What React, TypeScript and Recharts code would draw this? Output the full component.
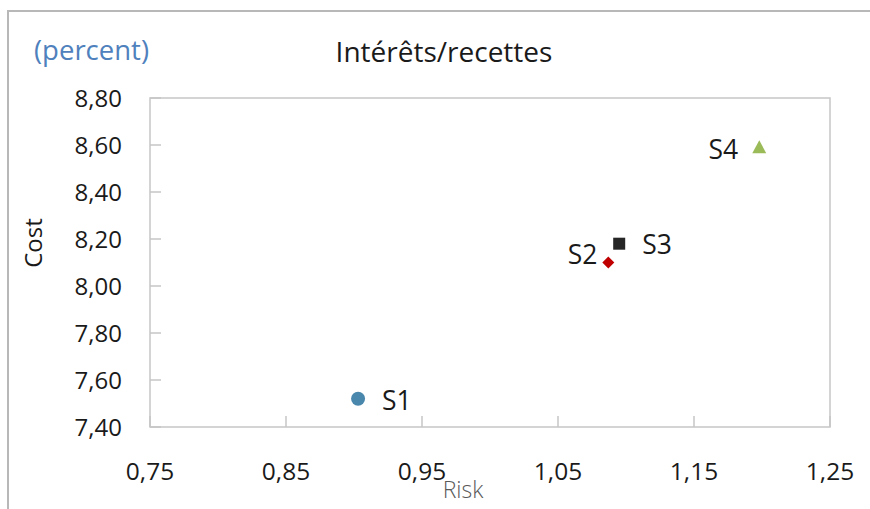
import React from "react";
import {
  ScatterChart,
  Scatter,
  XAxis,
  YAxis,
  ReferenceArea,
} from "recharts";

const s1 = [{ name: "S1", risk: 0.903, cost: 7.52 }];
const s2 = [{ name: "S2", risk: 1.087, cost: 8.1 }];
const s3 = [{ name: "S3", risk: 1.095, cost: 8.18 }];
const s4 = [{ name: "S4", risk: 1.198, cost: 8.59 }];

const xTicks = [0.75, 0.85, 0.95, 1.05, 1.15, 1.25];
const yTicks = [7.4, 7.6, 7.8, 8.0, 8.2, 8.4, 8.6, 8.8];

const FONT = "'Open Sans', 'Noto Sans', sans-serif";
const BORDER = "#c6c6c6";

const labelStyle: Record<string, { anchor: "start" | "end"; dx: number; dy: number }> = {
  S1: { anchor: "start", dx: 24, dy: 2 },
  S2: { anchor: "end", dx: -11, dy: -8 },
  S3: { anchor: "start", dx: 23, dy: 1 },
  S4: { anchor: "end", dx: -21, dy: 2 },
};

const fmt = (v: number) => v.toFixed(2).replace(".", ",");

const PointLabel = ({ cx, cy, name }: any) => {
  const st = labelStyle[name];
  return (
    <text
      x={cx + st.dx}
      y={cy + st.dy}
      dy="0.36em"
      textAnchor={st.anchor}
      fontSize={26.5}
      fontFamily={FONT}
      fill="#1a1a1a"
    >
      {name}
    </text>
  );
};

const CircleShape = (p: any) => (
  <g>
    <circle cx={p.cx} cy={p.cy} r={7} fill="#4a87ad" />
    <PointLabel cx={p.cx} cy={p.cy} name={p.payload.name} />
  </g>
);
const DiamondShape = (p: any) => (
  <g>
    <polygon
      points={`${p.cx},${p.cy - 6} ${p.cx + 6},${p.cy} ${p.cx},${p.cy + 6} ${p.cx - 6},${p.cy}`}
      fill="#c00000"
    />
    <PointLabel cx={p.cx} cy={p.cy} name={p.payload.name} />
  </g>
);
const SquareShape = (p: any) => (
  <g>
    <rect x={p.cx - 6} y={p.cy - 6} width={12} height={12} fill="#262626" />
    <PointLabel cx={p.cx} cy={p.cy} name={p.payload.name} />
  </g>
);
const TriangleShape = (p: any) => (
  <g>
    <polygon
      points={`${p.cx},${p.cy - 7} ${p.cx + 7},${p.cy + 6} ${p.cx - 7},${p.cy + 6}`}
      fill="#9bbb59"
    />
    <PointLabel cx={p.cx} cy={p.cy} name={p.payload.name} />
  </g>
);

const XTick = (props: any) => {
  const { x, y, payload } = props;
  return (
    <g>
      <line x1={x} y1={y} x2={x} y2={y - 11} stroke={BORDER} strokeWidth={1.5} />
      <text
        x={x}
        y={y + 44}
        dy="0.36em"
        textAnchor="middle"
        fontSize={24.5}
        fontFamily={FONT}
        fill="#1a1a1a"
      >
        {fmt(payload.value)}
      </text>
    </g>
  );
};

const YTick = (props: any) => {
  const { x, y, payload } = props;
  return (
    <g>
      <line x1={x} y1={y} x2={x + 11} y2={y} stroke={BORDER} strokeWidth={1.5} />
      <text
        x={x - 28}
        y={y}
        dy="0.36em"
        textAnchor="end"
        fontSize={24}
        fontFamily={FONT}
        fill="#1a1a1a"
      >
        {fmt(payload.value)}
      </text>
    </g>
  );
};

export default function App() {
  return (
    <div
      style={{
        position: "absolute",
        left: 0,
        top: 0,
        width: 870,
        height: 509,
        background: "#fff",
        overflow: "hidden",
      }}
    >
      <div
        style={{
          position: "absolute",
          left: 7,
          top: 10,
          width: 900,
          height: 600,
          borderLeft: "2px solid #b8b8b8",
          borderTop: "2px solid #b8b8b8",
        }}
      />
      <div
        style={{
          position: "absolute",
          left: 34,
          top: 32,
          fontFamily: FONT,
          fontSize: 27.5,
          color: "#4f81bd",
          lineHeight: "36px",
          whiteSpace: "nowrap",
        }}
      >
        (percent)
      </div>
      <div
        style={{
          position: "absolute",
          left: 244,
          width: 400,
          top: 33,
          textAlign: "center",
          fontFamily: FONT,
          fontSize: 28,
          color: "#1a1a1a",
          lineHeight: "36px",
          whiteSpace: "nowrap",
        }}
      >
        Intérêts/recettes
      </div>
      <div
        style={{
          position: "absolute",
          left: 33,
          top: 243,
          transform: "translate(-50%, -50%) rotate(-90deg)",
          fontFamily: FONT,
          fontSize: 24,
          color: "#1a1a1a",
          lineHeight: "28px",
          whiteSpace: "nowrap",
        }}
      >
        Cost
      </div>
      <div
        style={{
          position: "absolute",
          left: 463,
          top: 489,
          transform: "translate(-50%, -50%)",
          fontFamily: FONT,
          fontSize: 23,
          fontWeight: 300,
          color: "#595959",
          lineHeight: "28px",
          whiteSpace: "nowrap",
        }}
      >
        Risk
      </div>
      <div style={{ position: "absolute", left: 0, top: 0 }}>
        <ScatterChart
          width={870}
          height={509}
          margin={{ top: 98, right: 40, left: 0, bottom: 0 }}
        >
          <XAxis
            type="number"
            dataKey="risk"
            domain={[0.75, 1.25]}
            ticks={xTicks}
            interval={0}
            height={82}
            axisLine={false}
            tickLine={false}
            tickSize={0}
            tickMargin={0}
            tick={<XTick />}
            allowDataOverflow
          />
          <YAxis
            type="number"
            dataKey="cost"
            domain={[7.4, 8.8]}
            ticks={yTicks}
            interval={0}
            width={150}
            axisLine={false}
            tickLine={false}
            tickSize={0}
            tickMargin={0}
            tick={<YTick />}
            allowDataOverflow
          />
          <ReferenceArea
            x1={0.75}
            x2={1.25}
            y1={7.4}
            y2={8.8}
            fill="none"
            fillOpacity={0}
            stroke={BORDER}
            strokeWidth={1.5}
            ifOverflow="visible"
          />
          <Scatter data={s1} shape={CircleShape} isAnimationActive={false} />
          <Scatter data={s2} shape={DiamondShape} isAnimationActive={false} />
          <Scatter data={s3} shape={SquareShape} isAnimationActive={false} />
          <Scatter data={s4} shape={TriangleShape} isAnimationActive={false} />
        </ScatterChart>
      </div>
    </div>
  );
}
